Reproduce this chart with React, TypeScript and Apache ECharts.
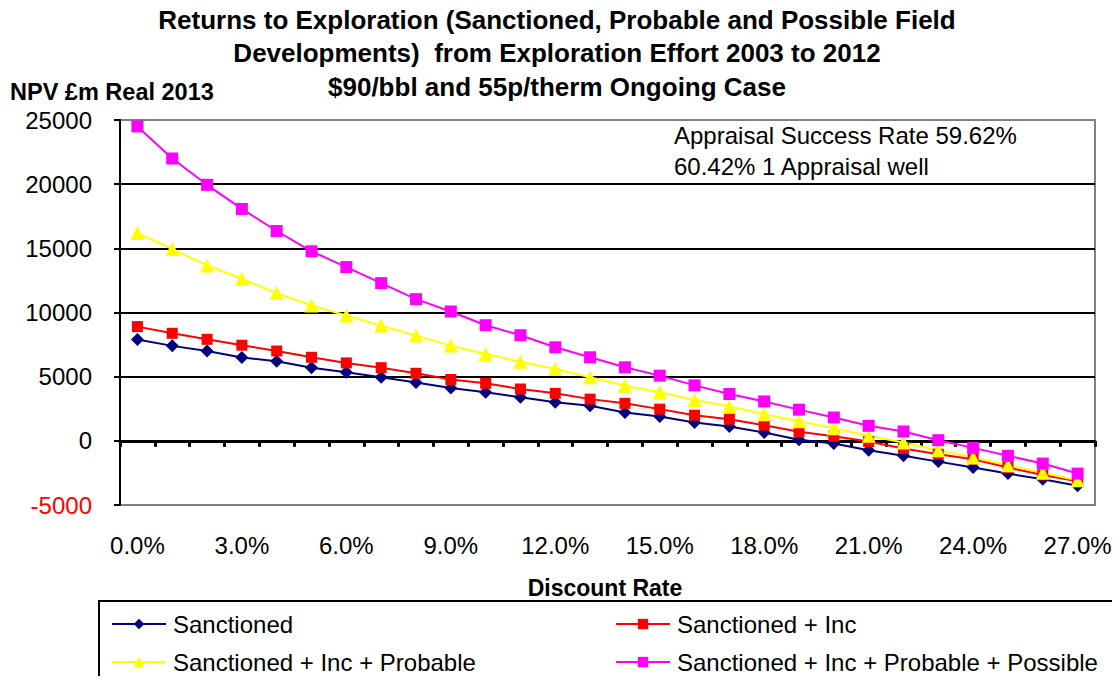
import React, { useEffect, useRef } from "react";
import * as echarts from "echarts";

const categories = [
  "0.0%", "1.0%", "2.0%", "3.0%", "4.0%", "5.0%", "6.0%", "7.0%", "8.0%", "9.0%",
  "10.0%", "11.0%", "12.0%", "13.0%", "14.0%", "15.0%", "16.0%", "17.0%", "18.0%", "19.0%",
  "20.0%", "21.0%", "22.0%", "23.0%", "24.0%", "25.0%", "26.0%", "27.0%",
];

const sanctioned = [7900, 7400, 7000, 6500, 6200, 5700, 5350, 4950, 4550, 4120, 3780, 3390, 3000, 2730, 2210, 1900, 1430, 1120, 650, 80, -210, -730, -1170, -1620, -2080, -2550, -3000, -3500];
const sanctionedInc = [8900, 8380, 7910, 7450, 7000, 6510, 6070, 5700, 5260, 4780, 4480, 4040, 3700, 3250, 2920, 2470, 2000, 1690, 1220, 700, 360, -50, -600, -1040, -1430, -2080, -2660, -3150];
const incProbable = [16200, 14950, 13670, 12630, 11510, 10550, 9770, 8980, 8200, 7420, 6770, 6170, 5600, 4950, 4300, 3780, 3180, 2680, 2080, 1530, 990, 390, -130, -730, -1300, -1900, -2480, -3070];
const incProbablePossible = [24500, 22000, 19950, 18070, 16350, 14770, 13540, 12290, 11040, 10080, 9010, 8230, 7290, 6510, 5730, 5080, 4320, 3650, 3070, 2430, 1820, 1170, 730, 50, -550, -1170, -1770, -2550];

const seriesNames = [
  "Sanctioned",
  "Sanctioned + Inc",
  "Sanctioned + Inc + Probable",
  "Sanctioned + Inc + Probable + Possible",
];

const titleLines = [
  "Returns to Exploration (Sanctioned, Probable and Possible Field",
  "Developments)  from Exploration Effort 2003 to 2012",
  "$90/bbl and 55p/therm Ongoing Case",
];
const yAxisTitle = "NPV £m Real 2013";
const xAxisTitle = "Discount Rate";
const noteLines = ["Appraisal Success Rate 59.62%", "60.42% 1 Appraisal well"];

const FONT = "'Liberation Sans', Arial, sans-serif";

export default function App() {
  const ref = useRef<HTMLDivElement>(null);
  useEffect(() => {
    if (!ref.current) return;
    const chart = echarts.init(ref.current, undefined, { renderer: "svg" });
    const mk = (name: string, data: number[], color: string, symbol: string, size: number) => ({
      name,
      type: "line",
      data,
      xAxisIndex: 0,
      yAxisIndex: 0,
      symbol,
      symbolSize: size,
      showSymbol: true,
      lineStyle: { color, width: 2 },
      itemStyle: { color, borderWidth: 0 },
      emphasis: { disabled: true },
    });
    const legendPos = [
      { left: 111, top: 612 },
      { left: 615, top: 612 },
      { left: 111, top: 650 },
      { left: 615, top: 650 },
    ];
    const option = {
      animation: false,
      backgroundColor: "#ffffff",
      textStyle: { fontFamily: FONT },
      grid: {
        left: 120,
        top: 120,
        right: 25,
        bottom: 179,
        show: true,
        borderColor: "#808080",
        borderWidth: 2,
        containLabel: false,
      },
      xAxis: [
        {
          type: "category",
          data: categories,
          boundaryGap: true,
          position: "bottom",
          axisLine: { show: false, onZero: false },
          axisTick: { show: false },
          splitLine: { show: false },
          axisLabel: {
            interval: 2,
            margin: 28,
            fontSize: 24,
            color: "#000",
            fontFamily: FONT,
          },
        },
        {
          type: "category",
          data: categories,
          boundaryGap: true,
          position: "top",
          axisLine: { show: true, onZero: true, lineStyle: { color: "#000", width: 3 } },
          axisTick: { show: true, inside: true, length: 6, interval: 0, lineStyle: { color: "#000", width: 3 } },
          axisLabel: { show: false },
          splitLine: { show: false },
        },
      ],
      yAxis: {
        type: "value",
        min: -5000,
        max: 25000,
        interval: 5000,
        axisLine: { show: true, onZero: false, lineStyle: { color: "#000", width: 2 } },
        axisTick: { show: true, inside: false, length: 6, lineStyle: { color: "#000", width: 2 } },
        splitLine: {
          show: true,
          lineStyle: {
            color: ["#808080", "#000000", "#000000", "#000000", "#000000", "#000000", "#808080"],
            width: 2,
          },
        },
        axisLabel: {
          margin: 28,
          fontSize: 24,
          color: "#000",
          fontFamily: FONT,
          formatter: (v: number) => (v < 0 ? `{neg|${v}}` : `${v}`),
          rich: { neg: { color: "#ff0000", fontSize: 24, fontFamily: FONT } },
        },
      },
      legend: seriesNames.map((n, i) => ({
        data: [n],
        left: legendPos[i].left,
        top: legendPos[i].top,
        orient: "horizontal",
        padding: 0,
        itemWidth: 54,
        itemHeight: 13,
        itemGap: 0,
        selectedMode: false,
        textStyle: { fontSize: 24, color: "#000", fontFamily: FONT, padding: [0, 0, 0, 2] },
      })),
      graphic: [
        ...titleLines.map((t, i) => ({
          type: "text",
          x: 557,
          y: [20, 53, 87][i],
          style: {
            text: t,
            font: `bold 26px ${FONT}`,
            fill: "#000",
            textAlign: "center",
            textVerticalAlign: "middle",
          },
        })),
        {
          type: "text",
          x: 10,
          y: 92,
          style: {
            text: yAxisTitle,
            font: `bold 23.5px ${FONT}`,
            fill: "#000",
            textAlign: "left",
            textVerticalAlign: "middle",
          },
        },
        ...noteLines.map((t, i) => ({
          type: "text",
          x: 674,
          y: [135, 166][i],
          style: {
            text: t,
            font: `24px ${FONT}`,
            fill: "#000",
            textAlign: "left",
            textVerticalAlign: "middle",
          },
        })),
        {
          type: "text",
          x: 605,
          y: 588,
          style: {
            text: xAxisTitle,
            font: `bold 23px ${FONT}`,
            fill: "#000",
            textAlign: "center",
            textVerticalAlign: "middle",
          },
        },
        {
          type: "rect",
          shape: { x: 99, y: 601, width: 1014, height: 100 },
          style: { fill: "none", stroke: "#000", lineWidth: 2 },
          silent: true,
        },
      ],
      series: [
        mk(seriesNames[0], sanctioned, "#000080", "diamond", 13),
        mk(seriesNames[1], sanctionedInc, "#ff0000", "rect", 11),
        mk(seriesNames[2], incProbable, "#ffff00", "triangle", 14),
        mk(seriesNames[3], incProbablePossible, "#ff00ff", "rect", 12),
      ],
    };
    chart.setOption(option as any);
    return () => chart.dispose();
  }, []);
  return <div ref={ref} style={{ width: 1120, height: 684, margin: -8 }} />;
}
